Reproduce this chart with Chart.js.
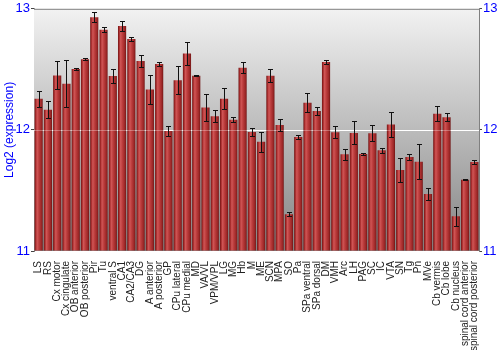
<!DOCTYPE html>
<html>
<head>
<meta charset="utf-8">
<script src="https://cdn.jsdelivr.net/npm/chart.js@4/dist/chart.umd.min.js"></script>
<style>
html,body{margin:0;padding:0;background:#fff;}
#wrap{width:500px;height:350px;position:relative;}
</style>
</head>
<body>
<div id="wrap"><canvas id="c" width="500" height="350"></canvas></div>
<script>
const categories = ["LS","RS","Cx motor","Cx cingulate","OB anterior","OB posterior","Pir","Tu","ventral S","CA1","CA2/CA3","DG","A anterior","A posterior","GP","CPu lateral","CPu medial","MD","VA/VL","VPM/VPL","LG","MG","Hb","M","ME","SCN","MPA","SO","Pa","SPa ventral","SPa dorsal","DM","VMH","Arc","LH","PAG","SC","IC","VTA","SN","Tg","Pn","MVe","Cb vermis","Cb lobe","Cb nucleus","spinal cord anterior","spinal cord posterior"];
const expression = [12.257,12.166,12.45,12.381,12.503,12.583,12.931,12.826,12.445,12.859,12.751,12.569,12.334,12.544,11.99,12.409,12.63,12.448,12.185,12.113,12.257,12.083,12.514,11.983,11.903,12.448,12.041,11.304,11.942,12.224,12.157,12.561,11.981,11.798,11.975,11.801,11.972,11.831,12.044,11.669,11.776,11.738,11.470,12.133,12.105,11.287,11.588,11.735];
const errors = [0.064,0.07,0.115,0.196,0.012,0.008,0.04,0.02,0.058,0.044,0.02,0.051,0.117,0.015,0.04,0.115,0.097,0.005,0.11,0.048,0.086,0.02,0.047,0.03,0.083,0.055,0.048,0.014,0.02,0.077,0.033,0.017,0.052,0.047,0.095,0.008,0.066,0.023,0.1,0.097,0.022,0.144,0.05,0.061,0.032,0.08,0.003,0.018];
const yTicks = [11,12,13];

const BAR_FRAC = 0.88;

const bgPlugin = {
  id:'bg',
  beforeDatasetsDraw(chart){
    const {ctx, chartArea:a} = chart;
    const g = ctx.createLinearGradient(0,a.top,0,a.bottom);
    g.addColorStop(0,'#f2f2f2');
    g.addColorStop(1,'#848484');
    ctx.save();
    ctx.fillStyle = g;
    ctx.fillRect(a.left,a.top,a.right-a.left,a.bottom-a.top);
    const y = chart.scales.y.getPixelForValue(12);
    ctx.strokeStyle = '#ffffff';
    ctx.lineWidth = 1;
    ctx.beginPath(); ctx.moveTo(a.left, Math.round(y)+0.5); ctx.lineTo(a.right, Math.round(y)+0.5); ctx.stroke();
    ctx.restore();
  },
  afterDatasetsDraw(chart){
    const {ctx, chartArea:a} = chart;
    const xs = chart.scales.x, ys = chart.scales.y;
    ctx.save();
    const y12 = Math.round(ys.getPixelForValue(12))+0.5;
    ctx.strokeStyle = 'rgba(255,255,255,0.3)';
    ctx.beginPath(); ctx.moveTo(a.left,y12); ctx.lineTo(a.right,y12); ctx.stroke();
    ctx.strokeStyle = '#111';
    ctx.lineWidth = 1;
    for(let i=0;i<expression.length;i++){
      const x = Math.round(xs.getPixelForValue(i))+0.5;
      const t = Math.round(ys.getPixelForValue(expression[i]+errors[i]))+0.5;
      const b = Math.round(ys.getPixelForValue(expression[i]-errors[i]))+0.5;
      ctx.beginPath();
      ctx.moveTo(x,t); ctx.lineTo(x,b);
      ctx.moveTo(x-2.5,t); ctx.lineTo(x+2.5,t);
      ctx.moveTo(x-2.5,b); ctx.lineTo(x+2.5,b);
      ctx.stroke();
    }
    ctx.strokeStyle = '#808080';
    ctx.beginPath(); ctx.moveTo(a.left, a.top+0.5); ctx.lineTo(a.right, a.top+0.5); ctx.stroke();
    ctx.restore();
  }
};

function barFill(c){
  const chart = c.chart;
  const xs = chart.scales && chart.scales.x;
  if(!xs || xs.width == null || !isFinite(xs.width) || xs.width<=0) return '#b03030';
  const x = xs.getPixelForValue(c.dataIndex);
  const w = xs.width/categories.length*BAR_FRAC;
  const g = chart.ctx.createLinearGradient(x-w/2,0,x+w/2,0);
  g.addColorStop(0,'#6e1212');
  g.addColorStop(0.14,'#a42a2a');
  g.addColorStop(0.32,'#d05656');
  g.addColorStop(0.55,'#bb3c3c');
  g.addColorStop(0.85,'#9a2626');
  g.addColorStop(1,'#6e1414');
  return g;
}

const sans = '"Liberation Sans", Arial, sans-serif';

new Chart(document.getElementById('c'),{
  type:'bar',
  data:{
    labels:categories,
    datasets:[{
      data:expression,
      backgroundColor:barFill,
      borderWidth:0,
      categoryPercentage:1,
      barPercentage:BAR_FRAC,
      base:11,
      yAxisID:'y'
    }]
  },
  options:{
    responsive:false,
    animation:false,
    devicePixelRatio:1,
    layout:{padding:{top:4,right:0,bottom:0,left:0}},
    plugins:{legend:{display:false},tooltip:{enabled:false}},
    scales:{
      x:{
        grid:{display:false},
        border:{display:false},
        ticks:{
          autoSkip:false,minRotation:90,maxRotation:90,
          color:'#222',padding:2,
          font:{family:sans,size:10}
        },
        afterFit(s){ s.height = 99; }
      },
      y:{
        position:'left',min:11,max:13,
        afterBuildTicks(s){ s.ticks = yTicks.map(v=>({value:v})); },
        grid:{drawOnChartArea:false,tickLength:3,color:'#444'},
        border:{display:true,color:'#808080'},
        ticks:{color:'#0000ff',padding:1,font:{family:sans,size:13}},
        title:{display:true,text:'Log2 (expression)',color:'#0000ff',padding:{top:2,bottom:1},
          font:{family:sans,size:12}},
        afterFit(s){ s.width = 34; }
      },
      y2:{
        position:'right',min:11,max:13,
        afterBuildTicks(s){ s.ticks = yTicks.map(v=>({value:v})); },
        grid:{drawOnChartArea:false,tickLength:3,color:'#444'},
        border:{display:true,color:'#808080'},
        ticks:{color:'#0000ff',padding:1,font:{family:sans,size:13}},
        afterFit(s){ s.width = 21; }
      }
    }
  },
  plugins:[bgPlugin]
});
</script>
</body>
</html>
